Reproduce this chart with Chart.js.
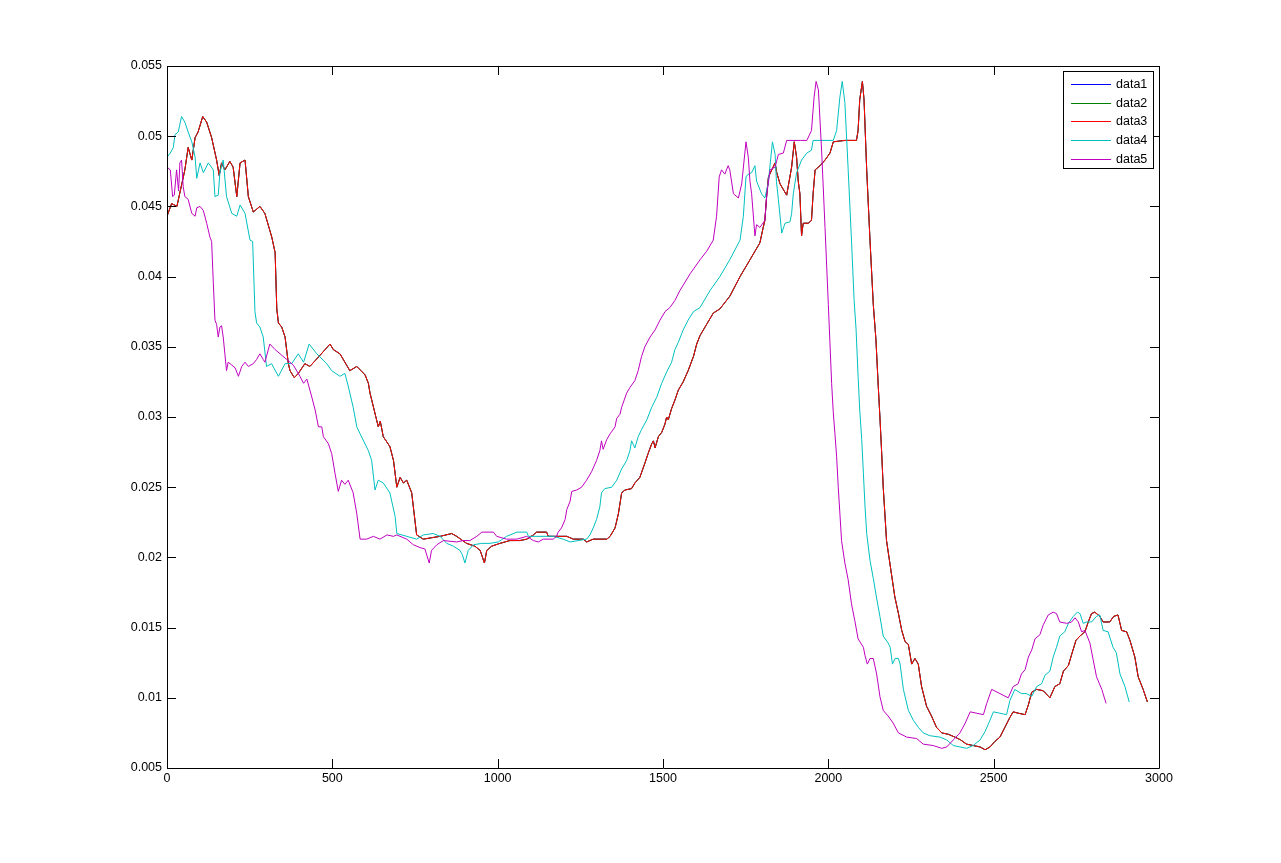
<!DOCTYPE html>
<html>
<head>
<meta charset="utf-8">
<title>data1-data5</title>
<script src="https://cdn.jsdelivr.net/npm/chart.js@4.4.1/dist/chart.umd.min.js"></script>
<style>
  html, body { margin: 0; padding: 0; background: #fff; }
  #myChart01 { display: block; }
</style>
</head>
<body>
<canvas id="myChart01" width="1281" height="863"></canvas>
<script>
// [x, y] samples
const data3 = [
  [0,0.0443],[14,0.0452],[30,0.0450],[54,0.0476],[64,0.0492],[75,0.0483],[85,0.0499],[94,0.0503],
  [108,0.0514],[120,0.0510],[135,0.0499],[150,0.0483],[158,0.0472],[165,0.0481],[175,0.0476],[190,0.0482],
  [200,0.0478],[211,0.0457],[221,0.0481],[236,0.0483],[246,0.0457],[261,0.0446],[281,0.0450],[296,0.0445],
  [317,0.0428],[327,0.0417],[332,0.0377],[337,0.0367],[347,0.0364],[357,0.0357],[367,0.0338],[372,0.0333],
  [385,0.0328],[397,0.0331],[417,0.0338],[432,0.0336],[463,0.0344],[493,0.0352],[503,0.0348],[523,0.0345],
  [553,0.0333],[574,0.0336],[599,0.0330],[609,0.0324],[614,0.0317],[639,0.0293],[645,0.0297],[654,0.0286],
  [674,0.0279],[685,0.0269],[695,0.0250],[705,0.0257],[715,0.0253],[725,0.0255],[740,0.0246],[755,0.0216],
  [775,0.0213],[800,0.0214],[826,0.0215],[861,0.0217],[876,0.0215],[906,0.0210],[931,0.0208],[947,0.0205],
  [960,0.0196],[967,0.0205],[982,0.0208],[1007,0.0210],[1037,0.0212],[1067,0.0212],[1088,0.0213],[1108,0.0216],
  [1118,0.0218],[1148,0.0218],[1153,0.0215],[1209,0.0215],[1229,0.0213],[1259,0.0213],[1269,0.0211],[1289,0.0213],
  [1330,0.0213],[1340,0.0215],[1355,0.0221],[1365,0.0231],[1375,0.0246],[1385,0.0248],[1405,0.0249],[1415,0.0253],
  [1430,0.0257],[1445,0.0267],[1455,0.0274],[1466,0.0281],[1471,0.0283],[1476,0.0278],[1486,0.0286],[1496,0.0289],
  [1506,0.0295],[1511,0.0300],[1516,0.0298],[1526,0.0306],[1536,0.0312],[1546,0.0319],[1561,0.0325],[1576,0.0333],
  [1592,0.0343],[1602,0.0352],[1612,0.0358],[1632,0.0366],[1652,0.0374],[1672,0.0377],[1702,0.0386],[1733,0.0400],
  [1763,0.0412],[1793,0.0424],[1803,0.0435],[1808,0.0440],[1814,0.0459],[1819,0.0471],[1829,0.0476],[1839,0.0481],
  [1844,0.0474],[1854,0.0466],[1874,0.0458],[1889,0.0478],[1897,0.0496],[1904,0.0485],[1909,0.0468],[1914,0.0459],
  [1919,0.0429],[1924,0.0438],[1939,0.0438],[1949,0.0440],[1954,0.0459],[1960,0.0476],[1975,0.0479],[1990,0.0483],
  [2005,0.0488],[2015,0.0496],[2050,0.0497],[2085,0.0497],[2090,0.0504],[2095,0.0526],[2103,0.0539],[2108,0.0526],
  [2116,0.0476],[2126,0.0426],[2136,0.0380],[2144,0.0355],[2151,0.0322],[2156,0.0300],[2161,0.0276],[2166,0.0250],
  [2171,0.0231],[2176,0.0212],[2186,0.0196],[2201,0.0172],[2212,0.0160],[2222,0.0148],[2232,0.0140],[2242,0.0138],
  [2252,0.0124],[2262,0.0128],[2272,0.0124],[2282,0.0108],[2297,0.0094],[2312,0.0087],[2327,0.0079],[2343,0.0075],
  [2363,0.0074],[2383,0.0072],[2400,0.0070],[2418,0.0067],[2438,0.0066],[2459,0.0065],[2474,0.0063],[2489,0.0065],
  [2504,0.0069],[2519,0.0072],[2534,0.0079],[2549,0.0086],[2559,0.0090],[2575,0.0089],[2595,0.0088],[2605,0.0095],
  [2615,0.0104],[2630,0.0106],[2650,0.0105],[2670,0.0100],[2685,0.0108],[2700,0.0110],[2711,0.0119],[2726,0.0123],
  [2736,0.0131],[2749,0.0141],[2761,0.0144],[2776,0.0147],[2786,0.0154],[2796,0.0160],[2806,0.0161],[2821,0.0158],
  [2831,0.0154],[2851,0.0154],[2863,0.0158],[2876,0.0159],[2887,0.0148],[2902,0.0147],[2912,0.0141],[2927,0.0129],
  [2937,0.0115],[2952,0.0106],[2965,0.0097]
];

const data4 = [
  [0,0.0485],[10,0.0488],[19,0.0492],[24,0.0501],[34,0.0503],[44,0.0514],[54,0.0510],[64,0.0503],
  [75,0.0496],[85,0.0485],[90,0.0470],[100,0.0481],[110,0.0474],[125,0.0481],[140,0.0476],[145,0.0457],
  [155,0.0458],[160,0.0474],[170,0.0483],[180,0.0457],[196,0.0445],[211,0.0443],[221,0.0451],[236,0.0445],
  [251,0.0426],[259,0.0425],[266,0.0375],[271,0.0367],[281,0.0364],[291,0.0357],[301,0.0336],[316,0.0338],
  [337,0.0329],[357,0.0338],[377,0.0338],[397,0.0345],[413,0.0339],[430,0.0352],[453,0.0345],[483,0.0338],
  [498,0.0333],[523,0.0329],[538,0.0331],[548,0.0322],[563,0.0307],[574,0.0293],[584,0.0288],[609,0.0276],
  [619,0.0269],[629,0.0248],[639,0.0255],[654,0.0253],[674,0.0246],[690,0.0229],[695,0.0217],[725,0.0215],
  [755,0.0213],[775,0.0216],[805,0.0217],[826,0.0215],[846,0.0210],[866,0.0208],[886,0.0205],[893,0.0202],
  [901,0.0196],[911,0.0205],[927,0.0209],[952,0.0210],[977,0.0210],[1002,0.0211],[1027,0.0215],[1058,0.0218],
  [1088,0.0218],[1093,0.0215],[1128,0.0215],[1168,0.0215],[1198,0.0213],[1219,0.0211],[1269,0.0213],[1279,0.0216],
  [1289,0.0221],[1299,0.0227],[1309,0.0236],[1314,0.0246],[1324,0.0249],[1345,0.0250],[1360,0.0255],[1375,0.0263],
  [1390,0.0269],[1400,0.0276],[1405,0.0283],[1415,0.0278],[1425,0.0286],[1435,0.0291],[1451,0.0298],[1466,0.0307],
  [1481,0.0314],[1496,0.0324],[1511,0.0332],[1526,0.0339],[1536,0.0348],[1546,0.0353],[1561,0.0362],[1576,0.0369],
  [1592,0.0375],[1612,0.0378],[1642,0.0390],[1672,0.0400],[1702,0.0412],[1733,0.0426],[1743,0.0443],[1751,0.0471],
  [1758,0.0473],[1768,0.0474],[1778,0.0479],[1783,0.0468],[1798,0.0459],[1808,0.0456],[1818,0.0466],[1831,0.0496],
  [1839,0.0487],[1843,0.0468],[1849,0.0455],[1859,0.0431],[1869,0.0438],[1884,0.0439],[1889,0.0445],[1894,0.0459],
  [1904,0.0474],[1919,0.0483],[1935,0.0488],[1949,0.0490],[1954,0.0497],[2015,0.0497],[2025,0.0504],[2035,0.0528],
  [2042,0.0539],[2050,0.0524],[2060,0.0476],[2070,0.0426],[2078,0.0383],[2084,0.0362],[2090,0.0329],[2095,0.0305],
  [2101,0.0284],[2106,0.0260],[2111,0.0236],[2116,0.0217],[2126,0.0198],[2136,0.0185],[2146,0.0171],[2156,0.0158],
  [2166,0.0144],[2181,0.0139],[2187,0.0136],[2194,0.0124],[2202,0.0128],[2212,0.0128],[2217,0.0124],[2227,0.0106],
  [2242,0.0091],[2257,0.0084],[2272,0.0079],[2287,0.0075],[2307,0.0073],[2338,0.0072],[2358,0.0070],[2378,0.0066],
  [2398,0.0065],[2418,0.0064],[2438,0.0066],[2459,0.0070],[2474,0.0076],[2489,0.0084],[2499,0.0090],[2519,0.0089],
  [2539,0.0088],[2549,0.0098],[2564,0.0106],[2584,0.0103],[2599,0.0103],[2615,0.0101],[2630,0.0108],[2645,0.0110],
  [2655,0.0116],[2670,0.0119],[2680,0.0129],[2690,0.0136],[2700,0.0144],[2715,0.0147],[2726,0.0153],[2741,0.0158],
  [2753,0.0161],[2761,0.0160],[2771,0.0153],[2781,0.0154],[2796,0.0154],[2811,0.0158],[2821,0.0159],[2831,0.0148],
  [2846,0.0147],[2861,0.0136],[2871,0.0132],[2882,0.0117],[2897,0.0108],[2910,0.0097]
];

const data5 = [
  [0,0.0478],[10,0.0476],[17,0.0457],[22,0.0458],[29,0.0476],[35,0.0461],[39,0.0481],[44,0.0483],
  [49,0.0464],[54,0.0457],[64,0.0455],[75,0.0445],[85,0.0443],[90,0.0449],[100,0.0450],[110,0.0447],
  [120,0.0438],[130,0.0428],[135,0.0425],[140,0.0396],[145,0.0369],[150,0.0366],[155,0.0357],[160,0.0364],
  [165,0.0365],[170,0.0357],[175,0.0345],[180,0.0333],[185,0.0339],[196,0.0337],[206,0.0335],[216,0.0329],
  [226,0.0336],[236,0.0339],[246,0.0336],[261,0.0338],[271,0.0341],[281,0.0345],[291,0.0341],[296,0.0339],
  [311,0.0352],[327,0.0348],[342,0.0345],[362,0.0341],[382,0.0337],[402,0.0329],[413,0.0324],[423,0.0327],
  [437,0.0315],[448,0.0305],[458,0.0293],[468,0.0293],[473,0.0286],[488,0.0281],[498,0.0274],[508,0.0260],
  [518,0.0247],[528,0.0255],[538,0.0252],[548,0.0255],[563,0.0246],[574,0.0231],[584,0.0213],[604,0.0213],
  [624,0.0215],[644,0.0213],[665,0.0216],[685,0.0215],[695,0.0216],[725,0.0213],[745,0.0209],[765,0.0207],
  [780,0.0206],[793,0.0196],[800,0.0205],[816,0.0209],[836,0.0212],[876,0.0211],[896,0.0212],[916,0.0212],
  [937,0.0215],[952,0.0218],[987,0.0218],[997,0.0215],[1027,0.0213],[1058,0.0213],[1088,0.0215],[1108,0.0212],
  [1123,0.0211],[1138,0.0213],[1168,0.0213],[1178,0.0215],[1183,0.0218],[1193,0.0221],[1204,0.0227],[1209,0.0234],
  [1219,0.0240],[1224,0.0247],[1239,0.0248],[1254,0.0250],[1269,0.0255],[1284,0.0261],[1299,0.0269],[1309,0.0276],
  [1314,0.0283],[1319,0.0277],[1330,0.0284],[1340,0.0288],[1355,0.0293],[1360,0.0299],[1370,0.0302],[1375,0.0307],
  [1390,0.0317],[1400,0.0321],[1415,0.0326],[1425,0.0333],[1435,0.0343],[1445,0.0350],[1461,0.0357],[1476,0.0362],
  [1491,0.0369],[1506,0.0375],[1521,0.0378],[1536,0.0383],[1551,0.0390],[1582,0.0402],[1612,0.0412],[1632,0.0418],
  [1652,0.0426],[1662,0.0443],[1670,0.0471],[1677,0.0476],[1687,0.0473],[1697,0.0479],[1702,0.0476],[1713,0.0459],
  [1728,0.0456],[1738,0.0466],[1751,0.0496],[1758,0.0485],[1763,0.0468],[1768,0.0459],[1778,0.0429],[1783,0.0437],
  [1793,0.0435],[1808,0.0440],[1814,0.0459],[1824,0.0476],[1839,0.0478],[1849,0.0487],[1864,0.0488],[1874,0.0497],
  [1915,0.0497],[1935,0.0497],[1949,0.0504],[1957,0.0528],[1963,0.0539],[1970,0.0533],[1980,0.0488],[1990,0.0435],
  [2000,0.0380],[2005,0.0352],[2010,0.0324],[2015,0.0303],[2020,0.0288],[2025,0.0272],[2030,0.0250],[2035,0.0231],
  [2040,0.0212],[2050,0.0196],[2060,0.0184],[2070,0.0167],[2080,0.0155],[2090,0.0142],[2106,0.0136],[2111,0.0130],
  [2118,0.0124],[2126,0.0128],[2136,0.0128],[2146,0.0117],[2156,0.0101],[2166,0.0091],[2181,0.0087],[2196,0.0082],
  [2212,0.0075],[2237,0.0072],[2267,0.0071],[2287,0.0067],[2317,0.0066],[2343,0.0064],[2358,0.0065],[2378,0.0070],
  [2398,0.0075],[2414,0.0082],[2429,0.0090],[2449,0.0089],[2469,0.0088],[2479,0.0096],[2494,0.0106],[2519,0.0103],
  [2544,0.0100],[2559,0.0108],[2574,0.0110],[2584,0.0117],[2595,0.0120],[2605,0.0129],[2615,0.0134],[2625,0.0142],
  [2640,0.0145],[2650,0.0152],[2665,0.0159],[2680,0.0161],[2690,0.0160],[2700,0.0154],[2721,0.0153],[2736,0.0154],
  [2746,0.0157],[2756,0.0154],[2766,0.0147],[2776,0.0148],[2791,0.0139],[2801,0.0127],[2811,0.0115],[2827,0.0106],
  [2840,0.0096]
];

// data1 and data2 are not visible in the picture: they lie under data3
const data1 = data3;
const data2 = data3;

const seriesNames = ['data1', 'data2', 'data3', 'data4', 'data5'];
const seriesValues = [data1, data2, data3, data4, data5];
const seriesColors = ['#0000ff', '#008000', '#ff0000', '#00bfbf', '#bf00bf'];

const xTicks = [0, 500, 1000, 1500, 2000, 2500, 3000];
const xTickLabels = ['0', '500', '1000', '1500', '2000', '2500', '3000'];
const yTicks = [0.005, 0.01, 0.015, 0.02, 0.025, 0.03, 0.035, 0.04, 0.045, 0.05, 0.055];
const yTickLabels = ['0.005', '0.01', '0.015', '0.02', '0.025', '0.03', '0.035', '0.04', '0.045', '0.05', '0.055'];

const FONT = { family: "'Liberation Sans', Arial, sans-serif", size: 12.5 };

// matlab style box: frame + inward ticks on all four sides, legend box top right
const matlabAxes = {
  id: 'matlabAxes',
  afterDraw(chart) {
    const ctx = chart.ctx;
    const a = chart.chartArea;
    const xs = chart.scales.x, ys = chart.scales.y;
    const tl = 9;
    ctx.save();
    ctx.strokeStyle = '#000';
    ctx.lineWidth = 1;
    ctx.beginPath();
    ctx.rect(Math.round(a.left) + 0.5, Math.round(a.top) + 0.5, Math.round(a.right - a.left), Math.round(a.bottom - a.top));
    xTicks.forEach(v => {
      const px = Math.round(xs.getPixelForValue(v)) + 0.5;
      ctx.moveTo(px, a.bottom); ctx.lineTo(px, a.bottom - tl);
      ctx.moveTo(px, a.top); ctx.lineTo(px, a.top + tl);
    });
    yTicks.forEach(v => {
      const py = Math.round(ys.getPixelForValue(v)) + 0.5;
      ctx.moveTo(a.left, py); ctx.lineTo(a.left + tl, py);
      ctx.moveTo(a.right, py); ctx.lineTo(a.right - tl, py);
    });
    ctx.stroke();

    // legend
    const bx = 1063.5, by = 71.5, bw = 90, bh = 97;
    ctx.fillStyle = '#fff';
    ctx.fillRect(bx, by, bw, bh);
    ctx.strokeRect(bx, by, bw, bh);
    ctx.font = FONT.size + 'px ' + FONT.family;
    ctx.textBaseline = 'middle';
    ctx.textAlign = 'left';
    seriesNames.forEach((name, i) => {
      const ry = Math.round(84 + i * 18.7) + 0.5;
      ctx.strokeStyle = seriesColors[i];
      ctx.beginPath();
      ctx.moveTo(1071, ry); ctx.lineTo(1111, ry);
      ctx.stroke();
      ctx.fillStyle = '#000';
      ctx.fillText(name, 1116, ry);
    });
    ctx.restore();
  }
};

const ctx01 = document.getElementById('myChart01').getContext('2d');
const myChart01 = new Chart(ctx01, {
  type: 'line',
  data: {
    datasets: seriesValues.map((vals, i) => ({
      label: seriesNames[i],
      data: vals.map(p => ({ x: p[0], y: p[1] })),
      borderColor: seriesColors[i],
      backgroundColor: seriesColors[i],
      borderWidth: 1,
      pointRadius: 0,
      tension: 0,
      fill: false,
      order: seriesNames.length - i
    }))
  },
  options: {
    responsive: false,
    animation: false,
    devicePixelRatio: 1,
    layout: { padding: { left: 0, top: 66, right: 122, bottom: 0 } },
    scales: {
      x: {
        type: 'linear',
        min: 0,
        max: 3000,
        afterBuildTicks: s => { s.ticks = xTicks.map(v => ({ value: v })); },
        afterFit: s => { s.height = 95; },
        grid: { display: false, drawTicks: false },
        border: { display: false },
        ticks: {
          color: '#000', font: FONT, padding: 3, maxRotation: 0, autoSkip: false,
          callback: (v, i) => xTickLabels[i]
        }
      },
      y: {
        type: 'linear',
        min: 0.005,
        max: 0.055,
        afterBuildTicks: s => { s.ticks = yTicks.map(v => ({ value: v })); },
        afterFit: s => { s.width = 167; },
        grid: { display: false, drawTicks: false },
        border: { display: false },
        ticks: {
          color: '#000', font: FONT, padding: 5, autoSkip: false,
          callback: (v, i) => yTickLabels[i]
        }
      }
    },
    plugins: {
      legend: { display: false },
      tooltip: { enabled: false }
    }
  },
  plugins: [matlabAxes]
});
</script>
</body>
</html>
